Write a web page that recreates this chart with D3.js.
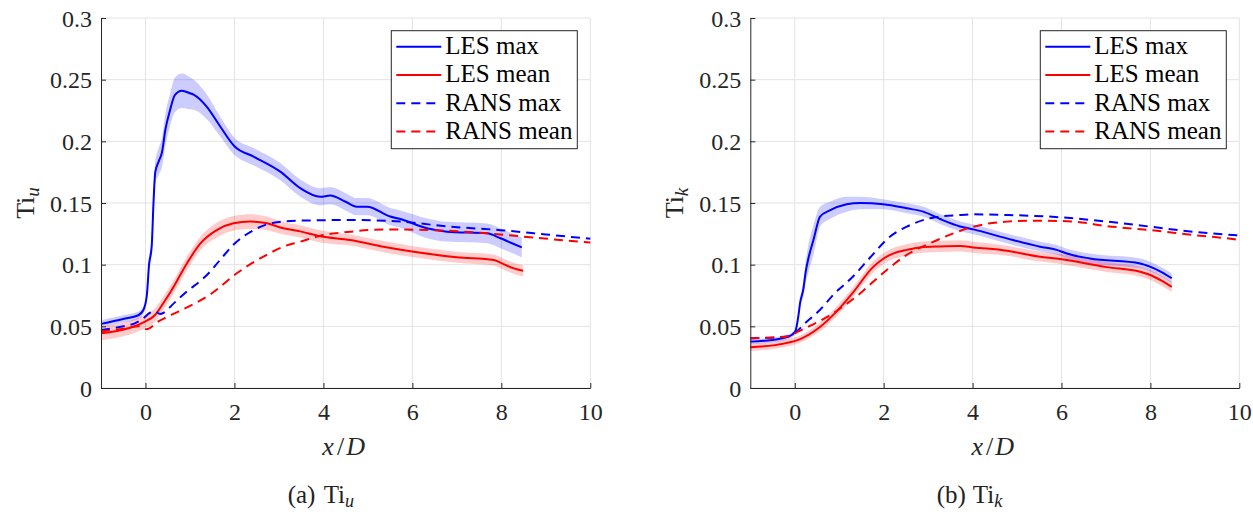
<!DOCTYPE html>
<html>
<head>
<meta charset="utf-8">
<script src="https://cdn.jsdelivr.net/npm/d3@7"></script>
<style>
  html, body { margin: 0; padding: 0; background: #fff; }
  svg, svg text { font-family: 'Liberation Serif', 'DejaVu Serif', serif !important; }
</style>
</head>
<body>
<svg id="chart" width="1253" height="512"></svg>
<script>
// ---------------- DATA ----------------
const xTicks = [0, 2, 4, 6, 8, 10];
const yTicks = [0, 0.05, 0.1, 0.15, 0.2, 0.25, 0.3];
const yTickLabels = ["0", "0.05", "0.1", "0.15", "0.2", "0.25", "0.3"];
const legendLabels = ["LES max", "LES mean", "RANS max", "RANS mean"];
const captions = ["(a)", "(b)"];
const subscripts = ["u", "k"];

// [x/D, value, band half-width]
const tiuLesMax = [
  [-1, 0.052, 0.003], [-0.5, 0.056, 0.003], [-0.16, 0.059, 0.003], [-0.05, 0.063, 0.003],
  [0.03, 0.075, 0.004], [0.08, 0.100, 0.005], [0.14, 0.115, 0.006], [0.18, 0.150, 0.008],
  [0.22, 0.175, 0.009], [0.30, 0.184, 0.011], [0.37, 0.191, 0.012], [0.45, 0.210, 0.013],
  [0.55, 0.225, 0.013], [0.66, 0.2375, 0.014], [0.815, 0.241, 0.014], [1.0, 0.239, 0.013],
  [1.1, 0.2375, 0.012], [1.38, 0.228, 0.010], [1.68, 0.212, 0.008], [2.0, 0.196, 0.007],
  [2.43, 0.1876, 0.007], [3.03, 0.1754, 0.007], [3.48, 0.162, 0.007], [3.93, 0.155, 0.007],
  [4.15, 0.156, 0.007], [4.5, 0.151, 0.007], [4.75, 0.147, 0.007], [4.98, 0.147, 0.007],
  [5.5, 0.139, 0.007], [5.73, 0.137, 0.007], [6.33, 0.1295, 0.008], [6.78, 0.1267, 0.008],
  [7.68, 0.1254, 0.008], [7.98, 0.1214, 0.008], [8.2, 0.118, 0.008], [8.46, 0.114, 0.008]
];
const tiuLesMean = [
  [-1, 0.0443, 0.0055], [-0.39, 0.0484, 0.0055], [-0.01, 0.0538, 0.0055], [0.21, 0.059, 0.0055],
  [0.44, 0.071, 0.0055], [0.59, 0.0795, 0.0055], [0.93, 0.101, 0.0055], [1.23, 0.117, 0.0055],
  [1.6, 0.128, 0.006], [1.98, 0.1335, 0.006], [2.35, 0.1349, 0.006], [2.73, 0.1335, 0.0055],
  [3.1, 0.1295, 0.005], [3.48, 0.127, 0.005], [3.93, 0.123, 0.005], [4.6, 0.120, 0.0045],
  [5.35, 0.1146, 0.0045], [6.03, 0.1105, 0.0045], [7.0, 0.106, 0.0045], [7.83, 0.1038, 0.0045],
  [7.98, 0.1016, 0.0045], [8.28, 0.097, 0.0045], [8.49, 0.095, 0.0045]
];
// [x/D, value]
const tiuRansMax = [
  [-1, 0.047], [-0.5, 0.050], [-0.24, 0.0524], [-0.05, 0.0565], [0.1, 0.061], [0.21, 0.062],
  [0.33, 0.060], [0.45, 0.062], [0.59, 0.067], [0.89, 0.077], [1.38, 0.0916], [1.68, 0.104],
  [2.0, 0.117], [2.43, 0.128], [2.88, 0.134], [3.48, 0.1357], [4.6, 0.1362], [5.73, 0.1349],
  [6.85, 0.1308], [7.98, 0.128], [9.0, 0.1245], [10, 0.121]
];
const tiuRansMean = [
  [-1, 0.046], [-0.5, 0.048], [-0.15, 0.050], [-0.09, 0.0497], [0.02, 0.0476], [0.29, 0.054],
  [0.74, 0.062], [1.11, 0.0686], [1.5, 0.077], [2.05, 0.093], [2.65, 0.1065], [3.1, 0.1146],
  [3.48, 0.1186], [3.93, 0.1235], [4.6, 0.1267], [5.35, 0.1286], [6.48, 0.128], [7.68, 0.1254],
  [8.73, 0.122], [9.78, 0.1186], [10, 0.118]
];

const tikLesMax = [
  [-1, 0.0376, 0.002], [-0.5, 0.039, 0.002], [-0.14, 0.0416, 0.002], [0.01, 0.0457, 0.002],
  [0.08, 0.058, 0.003], [0.12, 0.069, 0.004], [0.19, 0.0795, 0.006], [0.25, 0.095, 0.009],
  [0.3, 0.104, 0.011], [0.42, 0.120, 0.012], [0.57, 0.139, 0.008], [0.79, 0.144, 0.007],
  [1.17, 0.149, 0.006], [1.47, 0.150, 0.005], [1.99, 0.149, 0.004], [2.52, 0.1457, 0.004],
  [2.89, 0.143, 0.004], [3.27, 0.137, 0.004], [3.72, 0.131, 0.004], [4.02, 0.1286, 0.004],
  [4.77, 0.1213, 0.004], [5.52, 0.1146, 0.004], [5.89, 0.112, 0.004], [6.12, 0.109, 0.004],
  [6.64, 0.105, 0.004], [7.77, 0.101, 0.004], [7.99, 0.0984, 0.004], [8.25, 0.094, 0.004],
  [8.48, 0.089, 0.004]
];
const tikLesMean = [
  [-1, 0.033, 0.003], [-0.22, 0.0362, 0.003], [0.08, 0.039, 0.003], [0.53, 0.0484, 0.0035],
  [0.9, 0.0605, 0.004], [1.3, 0.077, 0.004], [1.76, 0.098, 0.0045], [2.0, 0.105, 0.0045],
  [2.21, 0.109, 0.0045], [2.52, 0.112, 0.0045], [2.82, 0.114, 0.0045], [3.27, 0.1148, 0.0045],
  [3.72, 0.1152, 0.0045], [4.02, 0.114, 0.0045], [4.77, 0.1113, 0.004], [5.52, 0.1065, 0.004],
  [5.89, 0.105, 0.004], [7.02, 0.098, 0.004], [7.77, 0.0943, 0.004], [8.0, 0.0916, 0.004],
  [8.25, 0.087, 0.004], [8.48, 0.082, 0.004]
];
const tikRansMax = [
  [-1, 0.0403], [-0.11, 0.042], [0.04, 0.0457], [0.23, 0.0524], [0.53, 0.062], [0.9, 0.0768],
  [1.3, 0.090], [1.7, 0.106], [2.14, 0.1227], [2.52, 0.1308], [3.04, 0.1376], [3.72, 0.1403],
  [4.02, 0.1408], [4.77, 0.1403], [5.97, 0.1384], [7.02, 0.1349], [8.0, 0.1308], [8.97, 0.1267],
  [9.87, 0.124], [10, 0.1236]
];
const tikRansMean = [
  [-1, 0.0403], [-0.2, 0.0416], [0.07, 0.0457], [0.34, 0.0503], [0.75, 0.058], [1.13, 0.0673],
  [1.43, 0.0754], [1.62, 0.0815], [2.07, 0.0957], [2.52, 0.108], [3.04, 0.1173], [3.57, 0.1254],
  [4.02, 0.1308], [4.77, 0.1349], [5.52, 0.1357], [6.27, 0.1349], [7.02, 0.1313], [8.0, 0.128],
  [8.97, 0.124], [9.89, 0.1206], [10, 0.120]
];

// ---------------- DRAW ----------------
const svg = d3.select("#chart");
const BLUE = "#0000ff", RED = "#ff0000", AXIS = "#262626", GRID = "#e3e3e3";
const FS = 24;
const FONT = "'Liberation Serif', 'DejaVu Serif', serif";

const panels = [
  { x0: 101, x1: 590.3, series: [tiuLesMax, tiuLesMean, tiuRansMax, tiuRansMean] },
  { x0: 750.3, x1: 1239.3, series: [tikLesMax, tikLesMean, tikRansMax, tikRansMean] }
];
const plotTop = 18, plotBottom = 388;
const styles = [
  { color: BLUE, dash: null }, { color: RED, dash: null },
  { color: BLUE, dash: "9,6" }, { color: RED, dash: "9,6" }
];

panels.forEach((p, pi) => {
  const x = d3.scaleLinear().domain([-1, 10]).range([p.x0, p.x1]);
  const y = d3.scaleLinear().domain([0, 0.3]).range([plotBottom, plotTop]);
  const g = svg.append("g").style("font-family", FONT);

  // grid
  g.append("g").selectAll("line").data(xTicks).join("line")
    .attr("x1", d => x(d)).attr("x2", d => x(d)).attr("y1", plotTop).attr("y2", plotBottom)
    .attr("stroke", GRID).attr("stroke-width", 1);
  g.append("g").selectAll("line").data(yTicks).join("line")
    .attr("x1", p.x0).attr("x2", p.x1).attr("y1", d => y(d)).attr("y2", d => y(d))
    .attr("stroke", GRID).attr("stroke-width", 1);

  // bands
  const area = d3.area().curve(d3.curveMonotoneX)
    .x(d => x(d[0])).y0(d => y(d[1] - d[2])).y1(d => y(d[1] + d[2]));
  g.append("path").datum(p.series[0]).attr("d", area).attr("fill", BLUE).attr("fill-opacity", 0.2);
  g.append("path").datum(p.series[1]).attr("d", area).attr("fill", RED).attr("fill-opacity", 0.2);

  // lines
  const line = d3.line().curve(d3.curveMonotoneX).x(d => x(d[0])).y(d => y(d[1]));
  p.series.forEach((s, si) => {
    g.append("path").datum(s).attr("d", line).attr("fill", "none")
      .attr("stroke", styles[si].color).attr("stroke-width", 2)
      .attr("stroke-dasharray", styles[si].dash);
  });

  // axes
  const ax = g.append("g").attr("transform", `translate(0,${plotBottom})`)
    .call(d3.axisBottom(x).tickValues(xTicks).tickSize(-5).tickPadding(15).tickSizeOuter(0));
  const ay = g.append("g").attr("transform", `translate(${p.x0},0)`)
    .call(d3.axisLeft(y).tickValues(yTicks).tickFormat((d, i) => yTickLabels[i])
      .tickSize(-5).tickPadding(9).tickSizeOuter(0));
  [ax, ay].forEach(a => {
    a.attr("font-family", null).style("font-family", FONT);
    a.select(".domain").attr("stroke", AXIS).attr("stroke-width", 1);
    a.selectAll(".tick line").attr("stroke", AXIS);
    a.selectAll(".tick text").attr("fill", AXIS).attr("font-size", FS).style("font-family", FONT);
  });
  ay.selectAll(".tick text").attr("dy", "0.34em");

  // x label
  const cx = (p.x0 + p.x1) / 2;
  const xl = g.append("text").attr("x", cx - 2).attr("y", 455).attr("text-anchor", "middle")
    .attr("font-size", 26).attr("fill", AXIS);
  xl.append("tspan").attr("font-style", "italic").text("x");
  xl.append("tspan").attr("dx", 3).text("/");
  xl.append("tspan").attr("dx", 2).attr("font-style", "italic").text("D");

  // y label
  const yl = g.append("text")
    .attr("transform", `translate(${p.x0 - 67},${(plotTop + plotBottom) / 2}) rotate(-90)`)
    .attr("text-anchor", "middle").attr("font-size", 26).attr("fill", AXIS);
  yl.append("tspan").text("Ti");
  yl.append("tspan").attr("font-style", "italic").attr("font-size", 19).attr("dy", 5).text(subscripts[pi]);

  // caption
  const cap = g.append("text").attr("x", cx - 58).attr("y", 503)
    .attr("font-size", 25).attr("fill", "#222");
  cap.append("tspan").text(captions[pi]);
  cap.append("tspan").attr("x", cx - 22).text("Ti");
  cap.append("tspan").attr("font-style", "italic").attr("font-size", 18).attr("dy", 4).text(subscripts[pi]);

  // legend
  const lw = 186, lh = 118;
  const lx = p.x1 - 13 - lw, ly = plotTop + 12.7;
  const lg = g.append("g").attr("transform", `translate(${lx},${ly})`);
  lg.append("rect").attr("width", lw).attr("height", lh).attr("fill", "#fff")
    .attr("stroke", AXIS).attr("stroke-width", 1);
  legendLabels.forEach((lab, i) => {
    const ry = 16 + i * 28.3;
    lg.append("line").attr("x1", 5).attr("x2", 50).attr("y1", ry).attr("y2", ry)
      .attr("stroke", styles[i].color).attr("stroke-width", 2)
      .attr("stroke-dasharray", styles[i].dash);
    lg.append("text").attr("x", 54).attr("y", ry + 7.5).attr("font-size", 25)
      .attr("fill", "#000").text(lab);
  });
});
</script>
</body>
</html>
